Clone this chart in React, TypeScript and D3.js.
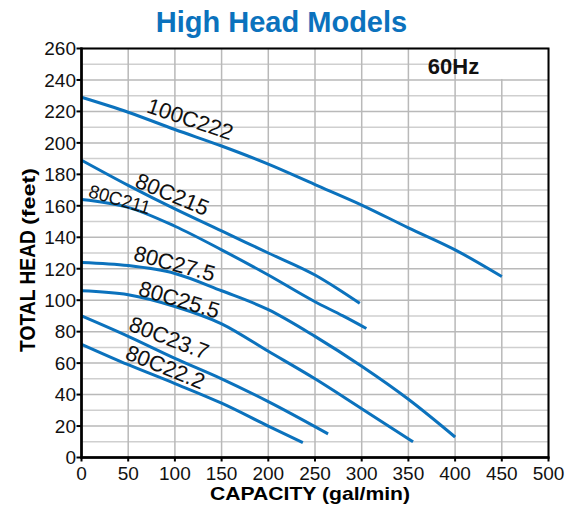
import React, { useEffect } from "react";
import * as d3 from "d3";

// ---- data ----
const xTicks = [0, 50, 100, 150, 200, 250, 300, 350, 400, 450, 500];
const yTicks = [0, 20, 40, 60, 80, 100, 120, 140, 160, 180, 200, 220, 240, 260];
const yMinor = [10, 30, 50, 70, 90, 110, 130, 150, 170, 190, 210, 230, 250];

const s100C222: [number, number][] = [[0, 229], [50, 219.5], [100, 208.5], [150, 198], [200, 186.5], [250, 173.5], [300, 160.5], [350, 146], [400, 132], [450, 115]];
const s80C215: [number, number][] = [[0, 189], [50, 173], [100, 158], [150, 144], [200, 130], [250, 116], [275, 107], [298, 98]];
const s80C211: [number, number][] = [[0, 164], [50, 159], [100, 147], [150, 132], [200, 116], [250, 99], [280, 90], [305, 82]];
const s80C275: [number, number][] = [[0, 124], [50, 122], [100, 117], [150, 106], [200, 94], [250, 77], [300, 58], [350, 37], [400, 13]];
const s80C255: [number, number][] = [[0, 106], [50, 103.5], [100, 96], [150, 85], [200, 67.5], [250, 50], [300, 31], [355, 10]];
const s80C237: [number, number][] = [[0, 90], [50, 77], [100, 63], [150, 50], [200, 35.5], [264, 15]];
const s80C222: [number, number][] = [[0, 72], [50, 59], [100, 47], [150, 34.5], [200, 20], [237, 9.5]];

const seriesList = [s100C222, s80C215, s80C211, s80C275, s80C255, s80C237, s80C222];
const labelNames = ["100C222", "80C215", "80C211", "80C27.5", "80C25.5", "80C23.7", "80C22.2"];
// label baseline start points in data space (capacity, head), angle, size
const labelPos: [number, number][] = [[68.5, 219.6], [56, 172.2], [6.5, 165.8], [54.5, 125.5], [59.8, 103.3], [49.2, 81], [45.5, 63]];
const labelAngle = [18.5, 22.5, 16.3, 15, 16.5, 21, 22];
const labelSize = [22, 22, 18.5, 22, 22, 22, 22];

const BLUE = "#0b72bd";
const FONT = "'Liberation Sans', Arial, Helvetica, sans-serif";

export default function App() {
  useEffect(() => {
    document.body.style.margin = "0";
  }, []);

  const left = 81.5, right = 548.5, top = 48.5, bottom = 457.5;
  const x = d3.scaleLinear().domain([0, 500]).range([left, right]);
  const y = d3.scaleLinear().domain([0, 260]).range([bottom, top]);
  const line = d3.line<[number, number]>().x(d => x(d[0])).y(d => y(d[1])).curve(d3.curveMonotoneX);

  return (
    <svg width={574} height={506} style={{ display: "block", background: "#fff" }} fontFamily={FONT}>
      <text x={281.5} y={32} textAnchor="middle" fontSize={29} fontWeight="bold" fill={BLUE}>High Head Models</text>

      {/* grid */}
      {yMinor.map(v => (
        <line key={"m" + v} x1={left} x2={right} y1={y(v)} y2={y(v)} stroke="#cfcfcf" strokeWidth={1.5} />
      ))}
      {yTicks.map(v => (
        <line key={"h" + v} x1={left} x2={right} y1={y(v)} y2={y(v)} stroke="#b9b9b9" strokeWidth={1.5} />
      ))}
      {xTicks.map(v => (
        <line key={"v" + v} x1={x(v)} x2={x(v)} y1={top} y2={bottom} stroke="#b9b9b9" strokeWidth={1.5} />
      ))}
      <rect x={x(400) + 1} y={top} width={right - x(400) - 1} height={y(240) - top - 1} fill="#fff" />
      <text x={453.5} y={74} textAnchor="middle" fontSize={22} fontWeight="bold" fill="#111">60Hz</text>

      {/* curves */}
      {seriesList.map((s, i) => (
        <path key={"c" + i} d={line(s) || ""} fill="none" stroke={BLUE} strokeWidth={3} strokeLinecap="butt" />
      ))}
      {labelNames.map((n, i) => {
        const px = x(labelPos[i][0]);
        const py = y(labelPos[i][1]);
        return (
          <text key={"l" + i} x={px} y={py} textAnchor="start"
            fontSize={labelSize[i]} fill="#111" transform={`rotate(${labelAngle[i]} ${px} ${py})`}>{n}</text>
        );
      })}

      {/* frame */}
      <rect x={left} y={top} width={right - left} height={bottom - top} fill="none" stroke="#000" strokeWidth={2} />
      <line x1={left} x2={left} y1={top - 1} y2={bottom + 1} stroke="#000" strokeWidth={2.5} />
      <line x1={left - 1} x2={right + 1} y1={bottom} y2={bottom} stroke="#000" strokeWidth={2.5} />

      {/* ticks */}
      {yTicks.map(v => (
        <g key={"yt" + v}>
          <line x1={left - 5} x2={left} y1={y(v)} y2={y(v)} stroke="#000" strokeWidth={2} />
          <text x={left - 5.5} y={y(v)} dy="0.36em" textAnchor="end" fontSize={19} fill="#111">{v}</text>
        </g>
      ))}
      {xTicks.map(v => (
        <g key={"xt" + v}>
          <line x1={x(v)} x2={x(v)} y1={bottom} y2={bottom + 4} stroke="#000" strokeWidth={2} />
          <text x={x(v)} y={480} textAnchor="middle" fontSize={19} fill="#111">{v}</text>
        </g>
      ))}

      {/* axis titles */}
      <text x={310} y={500} textAnchor="middle" fontSize={19} fontWeight="bold" fill="#000" textLength={200} lengthAdjust="spacingAndGlyphs">CAPACITY (gal/min)</text>
      <g transform="translate(35,0) rotate(-90)">
        <text x={-352} y={0} fontSize={22} fontWeight="bold" fill="#000" textLength={122} lengthAdjust="spacingAndGlyphs">TOTAL HEAD</text>
        <text x={-225} y={0} fontSize={18} fontWeight="bold" fill="#000" textLength={57} lengthAdjust="spacingAndGlyphs">(feet)</text>
      </g>
    </svg>
  );
}
